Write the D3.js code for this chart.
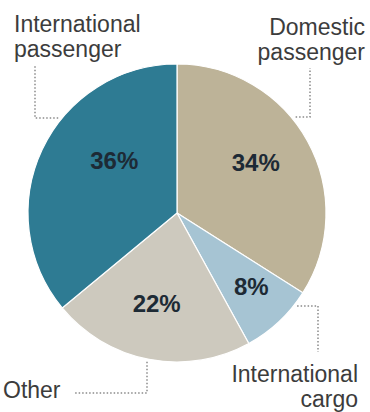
<!DOCTYPE html>
<html>
<head>
<meta charset="utf-8">
<script src="https://cdn.jsdelivr.net/npm/d3@7"></script>
<style>
  html, body { margin: 0; padding: 0; background: #fff; }
  svg { display: block; }
  text { font-family: "Liberation Sans", Arial, sans-serif; }
</style>
</head>
<body>
<svg id="chart" width="370" height="412"></svg>
<script>
// data, clockwise from 12 o'clock
let categories = ["Domestic passenger", "International cargo", "Other", "International passenger"];
let shares = [34, 8, 22, 36];
let colors = ["#bdb398", "#a6c4d3", "#cdc9be", "#2e7b93"];

let svgwidth = 370, svgheight = 412;
let cx = 177, cy = 213, radius = 149;

let svg = d3.select("#chart");
let g = svg.append("g").attr("transform", `translate(${cx},${cy})`);

let pie = d3.pie().sort(null).value(d => d.value);
let arcs = pie(categories.map((c, i) => ({name: c, value: shares[i], color: colors[i]})));

let arc = d3.arc().innerRadius(0).outerRadius(radius);

g.selectAll("path.slice")
  .data(arcs)
  .enter().append("path")
  .attr("class", "slice")
  .attr("d", arc)
  .attr("fill", d => d.data.color)
  .attr("stroke", "#fff")
  .attr("stroke-width", 1.2);

// percentage labels: polar placement (deg clockwise from top, fraction of radius)
let pctPos = {
  "Domestic passenger": [57, 0.63],
  "International cargo": [134.6, 0.70],
  "Other": [192.7, 0.62],
  "International passenger": [310, 0.55]
};
let polar = (deg, r) => {
  let a = deg * Math.PI / 180;
  return [Math.sin(a) * r, -Math.cos(a) * r];
};

g.selectAll("text.pct")
  .data(arcs)
  .enter().append("text")
  .attr("class", "pct")
  .attr("x", d => polar(pctPos[d.data.name][0], pctPos[d.data.name][1] * radius)[0])
  .attr("y", d => polar(pctPos[d.data.name][0], pctPos[d.data.name][1] * radius)[1])
  .attr("dy", "0.36em")
  .attr("text-anchor", "middle")
  .attr("font-size", 24)
  .attr("font-weight", "bold")
  .attr("fill", "#1d2a35")
  .text(d => d.data.value + "%");

// outer labels and dotted leaders
let outer = [
  {name: "International passenger", lines: ["International", "passenger"], x: 14, y: 32, anchor: "start",
   edge: 308.6, elbow: [35, 118], end: [35, 65]},
  {name: "Domestic passenger", lines: ["Domestic", "passenger"], x: 365, y: 35, anchor: "end",
   edge: 51.3, elbow: [310, 117], end: [310, 68]},
  {name: "International cargo", lines: ["International", "cargo"], x: 358, y: 382, anchor: "end",
   edge: 127.8, elbow: [318, 306], end: [318, 352]},
  {name: "Other", lines: ["Other"], x: 3, y: 398, anchor: "start",
   edge: 191.7, elbow: [147, 393], end: [75, 393]}
];

outer.forEach(o => {
  let p = polar(o.edge, radius + 3);
  let start = [cx + p[0], cy + p[1]];
  let pts = [start, o.elbow, o.end];
  // first segment snaps to the elbow's axis
  if (o.name === "Other") pts = [[o.elbow[0], start[1]], o.elbow, o.end];
  else pts = [[start[0], o.elbow[1]], o.elbow, o.end];
  svg.append("path")
    .attr("d", d3.line()(pts))
    .attr("fill", "none")
    .attr("stroke", "#8a8a8a")
    .attr("stroke-width", 1.5)
    .attr("stroke-dasharray", "1.5 2");

  let t = svg.append("text")
    .attr("x", o.x)
    .attr("y", o.y)
    .attr("text-anchor", o.anchor)
    .attr("font-size", 23)
    .attr("fill", "#3c3c3c");
  o.lines.forEach((l, i) => {
    t.append("tspan").attr("x", o.x).attr("dy", i === 0 ? 0 : 25).text(l);
  });
});
</script>
</body>
</html>
